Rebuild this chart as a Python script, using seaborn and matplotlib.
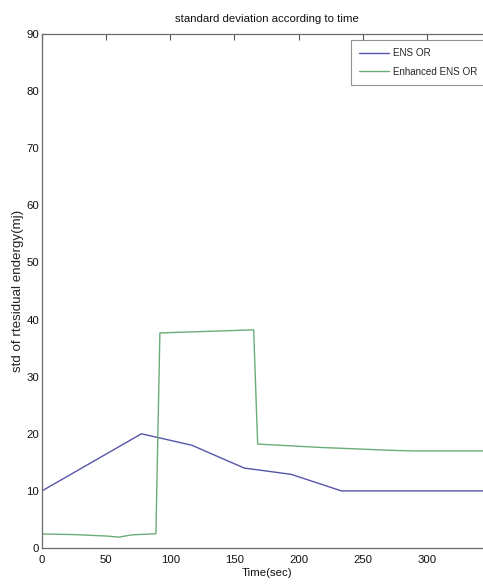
import matplotlib
matplotlib.use("Agg")
import matplotlib.pyplot as plt
import seaborn as sns
import pandas as pd

# ---- data ----
ens_time = [0, 77.5, 116.7, 157.6, 194.2, 233.4, 350]
ens_std = [10.0, 20.0, 18.0, 14.0, 12.9, 10.0, 10.0]

enh_time = [0, 25, 50, 60, 70, 88.8, 91.9, 165.0, 168.1, 217.7, 272.5, 289.5, 350]
enh_std = [2.45, 2.35, 2.1, 1.9, 2.3, 2.5, 37.65, 38.2, 18.2, 17.6, 17.1, 17.0, 17.0]

series_names = ["ENS OR", "Enhanced ENS OR"]
x_ticks = [0, 50, 100, 150, 200, 250, 300, 350]
x_tick_labels = ["0", "50", "100", "150", "200", "250", "300", ""]
y_ticks = [0, 10, 20, 30, 40, 50, 60, 70, 80, 90]

title_text = "standard deviation according to time"
x_label = "Time(sec)"
y_label = "std of rtesidual endergy(mj)"

# ---- style ----
sns.set_style("white")
plt.rcParams["font.family"] = ["Liberation Sans", "DejaVu Sans"]
fs = 8.2

df = pd.concat([
    pd.DataFrame({"time": ens_time, "std": ens_std, "series": series_names[0]}),
    pd.DataFrame({"time": enh_time, "std": enh_std, "series": series_names[1]}),
], ignore_index=True)

fig = plt.figure(figsize=(4.83, 5.86), dpi=100)
ax = fig.add_axes([42 / 483, 1 - 548 / 586, 449 / 483, 514 / 586])

palette = {series_names[0]: "#5656a8", series_names[1]: "#6aac76"}
sns.lineplot(data=df, x="time", y="std", hue="series", palette=palette,
             sort=False, estimator=None, units="series", linewidth=1.0, ax=ax)

ax.set_xlim(0, 350)
ax.set_ylim(0, 90)
ax.set_xticks(x_ticks)
ax.set_xticklabels(x_tick_labels)
ax.set_yticks(y_ticks)
ax.tick_params(direction="in", length=4.5, width=0.8, color="#555555",
               top=True, right=True, labelsize=fs, labelcolor="#111111")
ax.tick_params(axis="x", pad=5)
ax.tick_params(axis="y", pad=2)
for s in ax.spines.values():
    s.set_color("#6a6a6a")
    s.set_linewidth(0.9)

ax.set_title(title_text, fontsize=fs, pad=9, color="#111111")
ax.set_xlabel(x_label, fontsize=fs, labelpad=2, color="#111111")
ax.set_ylabel(y_label, fontsize=9.6, color="#222222")
ax.yaxis.set_label_coords(-0.039, 0.5)

leg = ax.legend(loc="upper left", bbox_to_anchor=(351 / 483, 1 - 40 / 586),
                bbox_transform=fig.transFigure, borderaxespad=0, fontsize=7.1,
                frameon=True, fancybox=False, edgecolor="#777777",
                handlelength=3.0, handletextpad=0.45, borderpad=0.85,
                labelspacing=0.85, title=None)
leg.get_frame().set_linewidth(0.8)

fig.savefig("out.png", dpi=100)
